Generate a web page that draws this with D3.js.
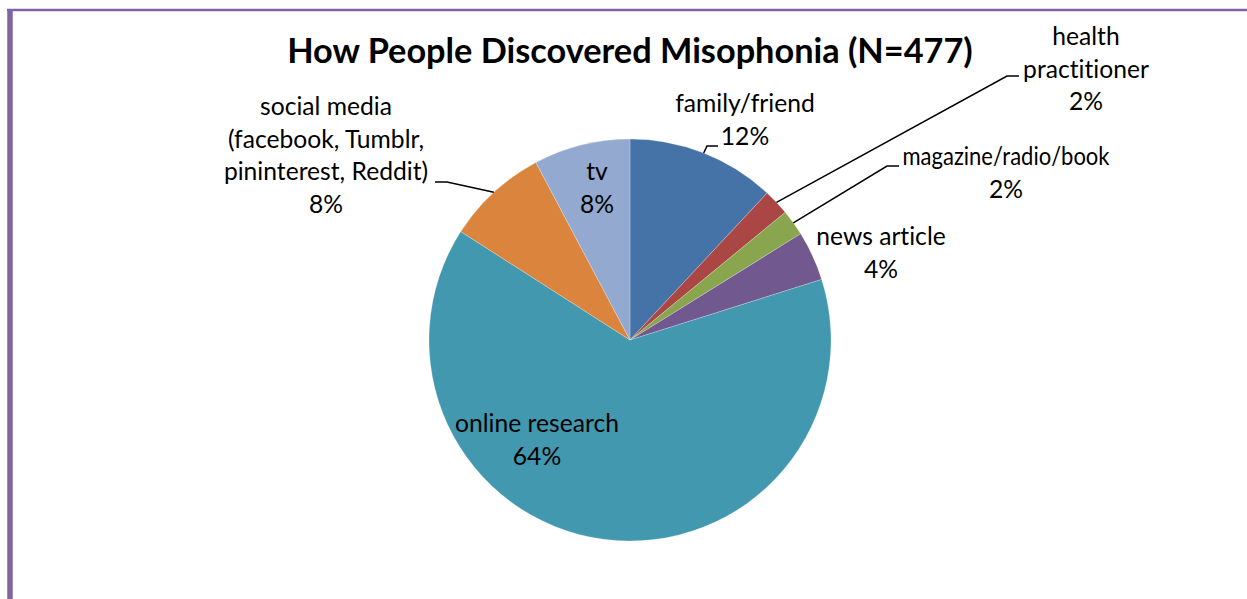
<!DOCTYPE html>
<html>
<head>
<meta charset="utf-8">
<script src="https://cdn.jsdelivr.net/npm/d3@7"></script>
<style>
html,body{margin:0;padding:0;background:#fff;}
svg{display:block;}
text{font-family:Lato,"Open Sans",sans-serif;fill:#000;font-variant-ligatures:none;font-feature-settings:"liga" 0,"clig" 0;}
</style>
</head>
<body>
<svg id="chart" width="1247" height="599"></svg>
<script>
const categories = ["family/friend","health practitioner","magazine/radio/book","news article","online research","social media (facebook, Tumblr, pininterest, Reddit)","tv"];
const counts = [57,10,10,19,305,39,37];
const percentLabels = ["12%","2%","2%","4%","64%","8%","8%"];
const labelLines = [["family/friend"],["health","practitioner"],["magazine/radio/book"],["news article"],["online research"],["social media","(facebook, Tumblr,","pininterest, Reddit)"],["tv"]];
const colors = ["#4572A7","#AA4643","#89A54E","#71588F","#4198AF","#DB843D","#93A9CF"];
const title = "How People Discovered Misophonia (N=477)";

const svg = d3.select("#chart");
const W = 1247, H = 599;
const cx = 630, cy = 340, R = 201;

// border
svg.append("line").attr("x1",7).attr("x2",W).attr("y1",10).attr("y2",10)
  .attr("stroke","#8064A2").attr("stroke-width",2.5);
svg.append("line").attr("x1",10).attr("x2",10).attr("y1",9).attr("y2",H)
  .attr("stroke","#8064A2").attr("stroke-width",5.5);

// title, fitted to width
const t = svg.append("text").attr("x",cx).attr("y",63).attr("text-anchor","middle")
  .style("font-weight","bold").style("font-size","28px").text(title);
const tw = t.node().getComputedTextLength();
t.style("font-size",(28*686/tw)+"px");

const pie = d3.pie().sort(null).value(d=>d);
const arcs = pie(counts);
const arc = d3.arc().innerRadius(0).outerRadius(R);
const g = svg.append("g").attr("transform",`translate(${cx},${cy})`);
g.selectAll("path").data(arcs).enter().append("path")
  .attr("d",arc).attr("fill",(d,i)=>colors[i])
  .attr("stroke","#fff").attr("stroke-width",0.4).attr("stroke-opacity",0.6);

// label font size fitted using a reference string
const probe = svg.append("text").style("font-size","20px").text("online research");
const lblSize = 20*164/probe.node().getComputedTextLength();
probe.remove();
const lineH = 32.5;

// label layout: center x, first baseline y, leader elbow (optional), optional fitted width of first line
const layout = [
  {x:745, y:112, leader:[[707,146],[718,146]]},
  {x:1086, y:45, leader:[[1007,76],[1019,76]]},
  {x:1006, y:165, leader:[[887,166],[899,166]], fit:207},
  {x:881, y:245},
  {x:537, y:432},
  {x:326, y:115, leader:[[447,182],[435,182]]},
  {x:597, y:180}
];

arcs.forEach((a,i)=>{
  const L = layout[i];
  const lines = labelLines[i].concat([percentLabels[i]]);
  const txt = svg.append("text").attr("text-anchor","middle").style("font-size",lblSize+"px");
  lines.forEach((s,k)=>{
    const ts = txt.append("tspan").attr("x",L.x).attr("y",L.y+k*lineH).text(s);
    if (L.fit && k===0) ts.attr("textLength",L.fit).attr("lengthAdjust","spacingAndGlyphs");
  });
  if (L.leader){
    const mid = (a.startAngle+a.endAngle)/2;
    const p0 = [cx+R*Math.sin(mid), cy-R*Math.cos(mid)];
    const pts = [p0].concat(L.leader);
    svg.append("path").attr("d",d3.line()(pts)).attr("fill","none")
      .attr("stroke","#000").attr("stroke-width",1.5);
  }
});
</script>
</body>
</html>
